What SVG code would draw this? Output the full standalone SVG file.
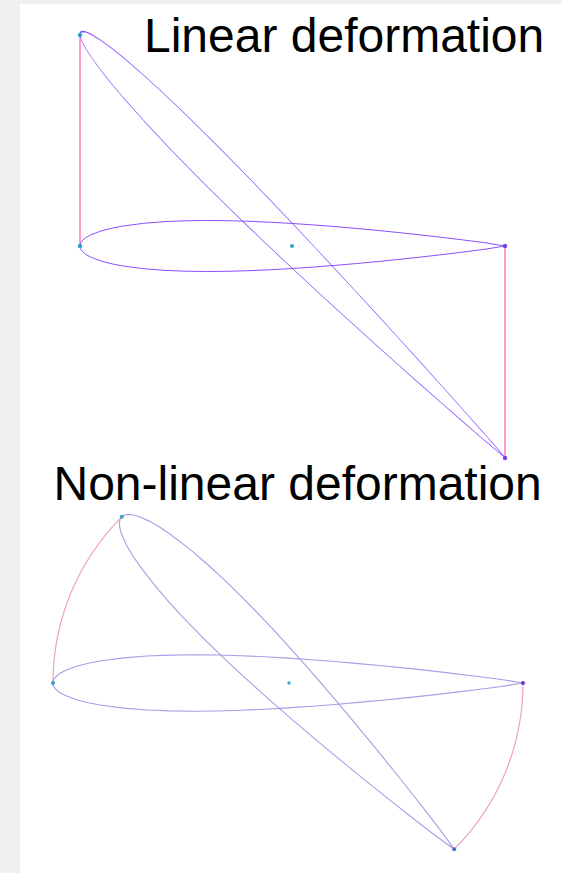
<svg xmlns="http://www.w3.org/2000/svg" xmlns:xlink="http://www.w3.org/1999/xlink" width="562" height="873" viewBox="0 0 562 873">
<style>
.title{font-family:"Liberation Sans",Arial,sans-serif;font-size:48px;fill:#000}
.foil1{fill:none;stroke:#8a4fff;stroke-width:2.35;stroke-linejoin:round}
.foil2{fill:none;stroke:#aa9ce6;stroke-width:2.4;stroke-linejoin:round}
.disp1{fill:none;stroke:#ff3d8f;stroke-width:1}
.disp2{fill:none;stroke:#f09cb4;stroke-width:1.1}
.c1{fill:#29a3cc}
.p1{fill:#7a3cf0}
</style>
<defs>
<path id="foil" d="M0,0 L0.25,-2.8 L1,-5.56 L2.5,-8.72 L5,-12.21 L12.5,-18.94 L25,-26.15 L50,-35.55 L75,-42 L100,-46.83 L150,-53.45 L200,-57.38 L250,-59.41 L300,-60.02 L350,-59.49 L400,-58.03 L450,-55.81 L500,-52.94 L550,-49.52 L600,-45.63 L650,-41.33 L700,-36.64 L750,-31.6 L800,-26.23 L850,-20.53 L900,-14.48 L950,-8.07 L1000,0 L950,8.07 L900,14.48 L850,20.53 L800,26.23 L750,31.6 L700,36.64 L650,41.33 L600,45.63 L550,49.52 L500,52.94 L450,55.81 L400,58.03 L350,59.49 L300,60.02 L250,59.41 L200,57.38 L150,53.45 L100,46.83 L75,42 L50,35.55 L25,26.15 L12.5,18.94 L5,12.21 L2.5,8.72 L1,5.56 L0.25,2.8 Z"/>
</defs>
<rect x="0" y="0" width="562" height="873" fill="#f0f0f0"/>
<rect x="20" y="4" width="542" height="869" fill="#ffffff"/>
<text class="title" x="144" y="52">Linear deformation</text>
<text class="title" x="53.5" y="500">Non-linear deformation</text>
<g id="connectors">
<line class="disp1" x1="80" y1="35" x2="80" y2="246"/>
<line class="disp1" x1="505" y1="246" x2="505" y2="458"/>
<path class="disp2" d="M121.8,516.8 A235,235 0 0 0 53,683"/>
<path class="disp2" d="M523,683 A235,235 0 0 1 454.2,849.2"/>
</g>
<g id="linear-original">
<use xlink:href="#foil" class="foil1" transform="translate(80,246) scale(0.425)"/>
</g>
<g id="linear-deformed">
<use xlink:href="#foil" class="foil1" transform="matrix(1,0.9953,0,1,0,-291.1) translate(80,246) scale(0.425)"/>
</g>
<g id="nonlinear-original">
<use xlink:href="#foil" class="foil2" transform="translate(53,683) scale(0.47)"/>
</g>
<g id="nonlinear-deformed">
<use xlink:href="#foil" class="foil2" transform="rotate(45,288,683) translate(53,683) scale(0.47)"/>
</g>
<g id="linear-points">
<circle class="c1" cx="80" cy="35" r="2.2"/>
<circle class="c1" cx="80" cy="246" r="2.2"/>
<circle class="c1" cx="292" cy="246" r="2"/>
<circle class="p1" cx="505" cy="246" r="2.2"/>
<circle class="p1" cx="505" cy="458" r="2.2"/>
</g>
<g id="nonlinear-points">
<circle cx="121.8" cy="516.8" r="2" fill="#33a6b0"/>
<circle cx="53" cy="683" r="2" fill="#3a9ccc"/>
<circle cx="289" cy="683" r="1.7" fill="#3aaacc"/>
<circle cx="523" cy="683" r="2" fill="#6633cc"/>
<circle cx="454.2" cy="849.2" r="2" fill="#3a7acc"/>
</g>
</svg>
